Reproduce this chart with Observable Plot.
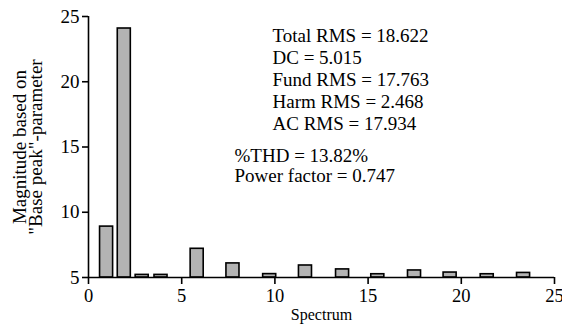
<!DOCTYPE html>
<html><head><meta charset="utf-8">
<script src="https://cdn.jsdelivr.net/npm/d3@7"></script>
<script src="https://cdn.jsdelivr.net/npm/@observablehq/plot@0.6"></script>
<style>
body{margin:0;background:#fff;font-family:"Liberation Serif",serif}
svg, svg text{font-family:"Liberation Serif","DejaVu Serif",serif !important}
</style>
</head><body><div id="chart"></div>
<script>
const positions = [0.97, 1.92, 2.88, 3.89, 5.83, 7.75, 9.72, 11.64, 13.63, 15.52, 17.49, 19.4, 21.39, 23.34];
const magnitudes = [8.9, 24.08, 5.2, 5.2, 7.2, 6.08, 5.26, 5.92, 5.62, 5.25, 5.54, 5.38, 5.25, 5.35];
const xTicks = [0, 5, 10, 15, 20, 25];
const yTicks = [5, 10, 15, 20, 25];
const statNames = ["Total RMS", "DC", "Fund RMS", "Harm RMS", "AC RMS"];
const statValues = ["18.622", "5.015", "17.763", "2.468", "17.934"];
const qualityNames = ["%THD", "Power factor"];
const qualityValues = ["13.82%", "0.747"];
const xLabel = "Spectrum";
const yLabel = 'Magnitude based on\n"Base peak"-parameter';

const half = 0.35;
const bars = positions.map((p, i) => ({x1: p - half, x2: p + half, y: magnitudes[i]}));
const statText = statNames.map((n, i) => `${n} = ${statValues[i]}`).join("\n");
const qualityText = qualityNames.map((n, i) => `${n} = ${qualityValues[i]}`).join("\n");

const plot = Plot.plot({
  width: 562, height: 325,
  marginLeft: 88, marginRight: 8, marginTop: 16, marginBottom: 48,
  style: {fontSize: "19px", background: "#fff", color: "#000", overflow: "visible"},
  x: {domain: [0, 25]},
  y: {domain: [5, 25]},
  marks: [
    Plot.rectY(bars, {x1: "x1", x2: "x2", y1: 5, y2: "y", fill: "#b3b3b3", stroke: "#000", strokeWidth: 1.6}),
    Plot.ruleY([5], {stroke: "#000", strokeWidth: 1.6}),
    Plot.ruleX([0], {stroke: "#000", strokeWidth: 1.6}),
    Plot.axisX({ticks: xTicks, tickSize: 7, tickPadding: 4, strokeWidth: 1.6, label: null, fontSize: 18.5}),
    Plot.axisY({ticks: yTicks, tickSize: 6, tickPadding: 3, strokeWidth: 1.6, label: null, fontSize: 19}),
    Plot.text([xLabel], {frameAnchor: "bottom", dy: 37, fontSize: 16, textAnchor: "middle", lineAnchor: "middle"}),
    Plot.text([yLabel], {frameAnchor: "left", rotate: -90, dx: -60, fontSize: 19, lineHeight: 0.87, textAnchor: "middle", lineAnchor: "middle"}),
    Plot.text([statText], {frameAnchor: "top-left", dx: 184, dy: 9.5, fontSize: 19, textAnchor: "start", lineAnchor: "top", lineHeight: 22 / 19}),
    Plot.text([qualityText], {frameAnchor: "top-left", dx: 146, dy: 131, fontSize: 19, textAnchor: "start", lineAnchor: "top", lineHeight: 20 / 19})
  ]
});
document.getElementById("chart").appendChild(plot);
</script>
</body></html>
